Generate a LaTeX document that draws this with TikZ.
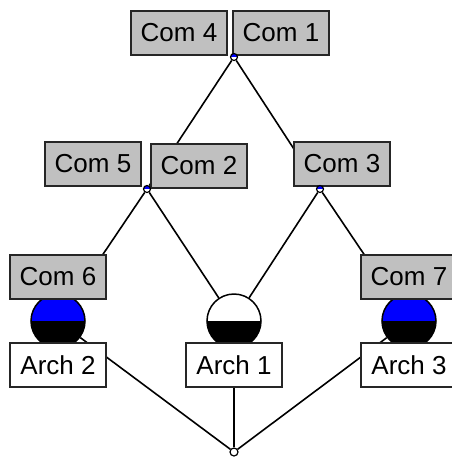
\documentclass[tikz,border=0pt]{standalone}
\usepackage{fontspec}
\setmainfont{Liberation Sans}
\definecolor{com_gray}{RGB}{192, 192, 192}
\definecolor{ball_blue}{RGB}{0, 0, 255}
\usepackage{tikz}
\usetikzlibrary{backgrounds}

\tikzset{
  combox/.style={draw=black!85, line width=1.5pt, fill=com_gray, inner sep=0pt,
    minimum width=96pt, minimum height=44pt, font=\fontsize{26}{30}\selectfont},
  archbox/.style={combox, fill=white},
  ball/.style 2 args={circle, draw=black, line width=1.5pt, inner sep=0pt, minimum size=54pt,
    path picture={
      \fill[#1] (path picture bounding box.north west) rectangle (path picture bounding box.east);
      \fill[#2] (path picture bounding box.west) rectangle (path picture bounding box.south east);
    }},
  junction/.style={circle, draw=black, line width=1.2pt, inner sep=0pt, minimum size=7pt, fill=white,
    path picture={
      \fill[ball_blue] (path picture bounding box.north west) rectangle (path picture bounding box.east);
    }},
  link/.style={draw=black, line width=1.6pt}
}

\begin{document}
\begin{tikzpicture}[x=1pt, y=-1pt]
    \useasboundingbox (0,0) rectangle (452,459);

    \node[ball={ball_blue}{black}] (ball2) at (58,  321) {};
    \node[ball={white}{black}]     (ball1) at (234, 321) {};
    \node[ball={ball_blue}{black}] (ball3) at (409, 321) {};

    \node[combox] (com4) at (179, 33)  {Com 4};
    \node[combox] (com1) at (281, 33)  {Com 1};
    \node[combox] (com5) at (93,  164) {Com 5};
    \node[combox] (com2) at (199, 166) {Com 2};
    \node[combox] (com3) at (342, 164) {Com 3};
    \node[combox] (com6) at (58,  277) {Com 6};
    \node[combox] (com7) at (409, 277) {Com 7};

    \node[archbox] (arch2) at (58,  365) {Arch 2};
    \node[archbox] (arch1) at (234, 365) {Arch 1};
    \node[archbox] (arch3) at (409, 365) {Arch 3};

    \node[junction] (j1) at (234, 57)  {};
    \node[junction] (j2) at (147, 189) {};
    \node[junction] (j3) at (320, 189) {};
    \node[circle, draw, line width=1.2pt, fill=white, inner sep=0pt, minimum size=8pt] (j0) at (234, 452) {};

    \begin{pgfonlayer}{background}
      \draw[link] (j1) -- (j2);
      \draw[link] (j1) -- (j3);
      \draw[link] (j2) -- (ball2);
      \draw[link] (j2) -- (ball1);
      \draw[link] (j3) -- (ball1);
      \draw[link] (j3) -- (ball3);
      \draw[link] (j0) -- (ball2);
      \draw[link] (j0) -- (ball3);
      \draw[link] (j0) -- (arch1);
    \end{pgfonlayer}
  \end{tikzpicture}
\end{document}
